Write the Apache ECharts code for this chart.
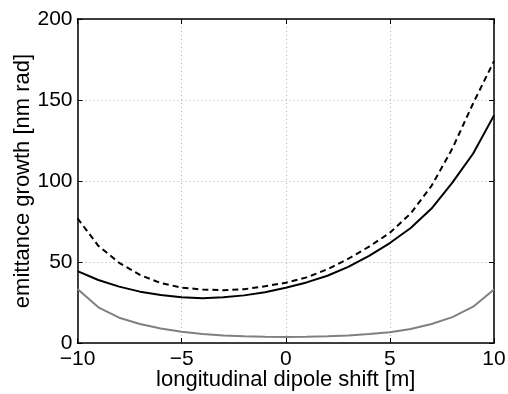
<!DOCTYPE html>
<html><head><meta charset="utf-8">
<script src="https://cdn.jsdelivr.net/npm/echarts@6/dist/echarts.min.js"></script>
<style>html,body{margin:0;padding:0;background:#fff}#c{width:508px;height:394px}</style>
</head><body><div id="c"></div>
<script>
const xs = [-10,-9,-8,-7,-6,-5,-4,-3,-2,-1,0,1,2,3,4,5,6,7,8,9,10];
const dashedVals = [77,60,49.5,42,37,34.2,33,32.6,33.2,35,37.2,40.5,45.5,52,59.5,68,80,97,120,148,174];
const solidVals = [44.4,38.9,34.8,31.7,29.6,28.2,27.6,28.2,29.4,31.3,34.1,37.4,41.5,47,53.8,61.7,71,83,99,117,140.5];
const grayVals = [33.3,22,15.6,11.7,9,7,5.6,4.7,4.1,3.8,3.7,3.8,4.1,4.7,5.5,6.6,8.6,11.7,16,22.4,33];
const xTicks = [-10,-5,0,5,10];
const yTicks = [0,50,100,150,200];
const xName = 'longitudinal dipole shift [m]';
const yName = 'emittance growth [nm rad]';

const font = "'Liberation Sans', Arial, Helvetica, sans-serif";
const pair = v => xs.map((x,i)=>[x,v[i]]);
const fmt = v => (v<0 ? '\u2212'+(-v) : String(v));
const chart = echarts.init(document.getElementById('c'), null, {renderer:'canvas'});
const baseAxisLine = {show:true, onZero:false, lineStyle:{color:'#000', width:1.5}};
const tick = {show:true, inside:true, length:5, lineStyle:{color:'#000', width:1}};
chart.setOption({
  animation:false,
  backgroundColor:'#fff',
  grid:{left:77.5, right:14, top:19, bottom:51, containLabel:false, outerBoundsMode:'none'},
  xAxis:[
    {type:'value', min:xTicks[0], max:xTicks[xTicks.length-1], interval:5, position:'bottom',
     name:xName, nameLocation:'middle', nameGap:26, nameMoveOverlap:false,
     nameTextStyle:{fontFamily:font, fontSize:22, color:'#000'},
     axisLine:baseAxisLine, axisTick:tick,
     axisLabel:{fontFamily:font, fontSize:21, color:'#000', margin:6, formatter:fmt},
     splitLine:{show:true, lineStyle:{color:'#b0b0b0', type:[1,3], width:1}}},
    {type:'value', min:xTicks[0], max:xTicks[xTicks.length-1], interval:5, position:'top',
     axisLine:baseAxisLine, axisTick:tick,
     axisLabel:{show:false}, splitLine:{show:false}}
  ],
  yAxis:[
    {type:'value', min:yTicks[0], max:yTicks[yTicks.length-1], interval:50, position:'left',
     name:yName, nameLocation:'middle', nameGap:44, nameMoveOverlap:false,
     nameTextStyle:{fontFamily:font, fontSize:22, color:'#000'},
     axisLine:baseAxisLine, axisTick:tick,
     axisLabel:{fontFamily:font, fontSize:21, color:'#000', margin:5},
     splitLine:{show:true, lineStyle:{color:'#b0b0b0', type:[1,3], width:1}}},
    {type:'value', min:yTicks[0], max:yTicks[yTicks.length-1], interval:50, position:'right',
     axisLine:baseAxisLine, axisTick:tick,
     axisLabel:{show:false}, splitLine:{show:false}}
  ],
  series:[
    {type:'line', data:pair(grayVals), showSymbol:false, lineStyle:{color:'#808080', width:2}},
    {type:'line', data:pair(solidVals), showSymbol:false, lineStyle:{color:'#000', width:2}},
    {type:'line', data:pair(dashedVals), showSymbol:false, lineStyle:{color:'#000', width:2, type:[6,4]}}
  ]
});
</script></body></html>
